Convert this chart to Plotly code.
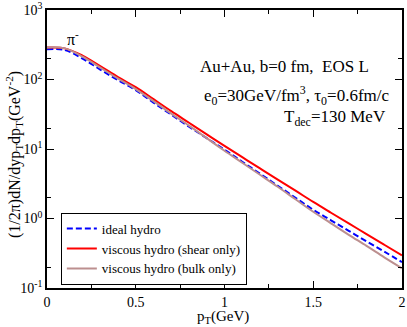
import plotly.graph_objects as go

pt = [0.0, 0.1, 0.2, 0.3, 0.4, 0.5, 0.6, 0.7, 0.8, 0.9, 1.0,
      1.1, 1.2, 1.3, 1.4, 1.5, 1.6, 1.7, 1.8, 1.9, 2.0]

ideal = [271.5, 265.3, 200.1, 138.9, 98.0, 70.4, 46.5, 31.2, 20.96, 14.31, 9.77,
         6.56, 4.41, 2.96, 1.99, 1.335, 0.942, 0.665, 0.469, 0.334, 0.236]
shear = [288.2, 280.6, 221.0, 156.0, 108.3, 77.7, 52.2, 35.0, 23.85, 16.23, 11.08,
         7.62, 5.25, 3.62, 2.51, 1.73, 1.21, 0.850, 0.596, 0.419, 0.295]
bulk = [288.2, 280.6, 213.8, 148.4, 103.0, 72.7, 48.8, 32.3, 21.7, 14.31, 9.45,
        6.35, 4.26, 2.86, 1.89, 1.25, 0.853, 0.582, 0.404, 0.276, 0.192]

names = ["ideal hydro", "viscous hydro (shear only)", "viscous hydro (bulk only)"]

x_ticks = [0, 0.5, 1, 1.5, 2]
x_ticktext = ["0", "0.5", "1", "1.5", "2"]
x_minor = [0.25, 0.75, 1.25, 1.75]
y_ticks = [0.1, 1, 10, 100, 1000]
y_ticktext = ["10<sup>-1</sup>", "10<sup>0</sup>", "10<sup>1</sup>", "10<sup>2</sup>", "10<sup>3</sup>"]
y_minor = [0.2, 2, 20, 200]

FONT = "Liberation Serif"

fig = go.Figure()
fig.add_trace(go.Scatter(x=pt, y=ideal, mode="lines", name=names[0],
                         line=dict(color="#0000ff", width=2, dash="6px,3px", shape="spline")))
fig.add_trace(go.Scatter(x=pt, y=shear, mode="lines", name=names[1],
                         line=dict(color="#ff0000", width=2, shape="spline")))
fig.add_trace(go.Scatter(x=pt, y=bulk, mode="lines", name=names[2],
                         line=dict(color="#bc8f8f", width=2, shape="spline")))

fig.update_layout(
    width=407, height=327,
    margin=dict(l=47, r=5, t=10, b=39, autoexpand=False),
    paper_bgcolor="white", plot_bgcolor="white",
    font=dict(family=FONT, size=14, color="black"),
    showlegend=True,
    legend=dict(x=0.039, y=0.271, xanchor="left", yanchor="top",
                bordercolor="black", borderwidth=1, bgcolor="white",
                font=dict(family=FONT, size=13), tracegroupgap=0,
                itemwidth=30),
)

fig.update_xaxes(
    range=[0, 2], tickmode="array", tickvals=x_ticks, ticktext=x_ticktext,
    ticks="inside", ticklen=7, tickwidth=1, tickcolor="black",
    showline=True, linecolor="black", linewidth=1.5, mirror="ticks",
    showgrid=False, zeroline=False, automargin=False,
    minor=dict(tickmode="array", tickvals=x_minor,
               ticks="inside", ticklen=4, tickcolor="black", showgrid=False),
    tickfont=dict(family=FONT, size=14),
)
fig.update_yaxes(
    type="log", range=[-1, 3], tickmode="array", tickvals=y_ticks, ticktext=y_ticktext,
    ticks="inside", ticklen=7, tickwidth=1, tickcolor="black",
    showline=True, linecolor="black", linewidth=1.5, mirror="ticks",
    showgrid=False, zeroline=False, automargin=False,
    minor=dict(tickmode="array", tickvals=y_minor,
               ticks="inside", ticklen=4, tickcolor="black", showgrid=False),
    tickfont=dict(family=FONT, size=14),
)

# axis titles
fig.add_annotation(x=0.497, y=-0.105, xref="paper", yref="paper",
                   text="p<sub>T</sub>(GeV)", showarrow=False,
                   font=dict(family=FONT, size=15), xanchor="center", yanchor="middle")
fig.add_annotation(x=-0.093, y=0.482, xref="paper", yref="paper",
                   text="(1/2π)dN/dyp<sub>T</sub>dp<sub>T</sub>(GeV<sup>-2</sup>)",
                   showarrow=False, textangle=-90,
                   font=dict(family=FONT, size=16), xanchor="center", yanchor="middle")

# text labels
fig.add_annotation(x=0.052, y=0.9, xref="paper", yref="paper",
                   text="π<sup>-</sup>", showarrow=False,
                   font=dict(family=FONT, size=16), xanchor="left", yanchor="middle")
fig.add_annotation(x=0.425, y=0.795, xref="paper", yref="paper",
                   text="Au+Au, b=0 fm,&nbsp;&nbsp;EOS L", showarrow=False,
                   font=dict(family=FONT, size=17), xanchor="left", yanchor="middle")
fig.add_annotation(x=0.437, y=0.694, xref="paper", yref="paper",
                   text="e<sub>0</sub>=30GeV/fm<sup>3</sup>, τ<sub>0</sub>=0.6fm/c", showarrow=False,
                   font=dict(family=FONT, size=17), xanchor="left", yanchor="middle")
fig.add_annotation(x=0.662, y=0.612, xref="paper", yref="paper",
                   text="T<sub>dec</sub>=130 MeV", showarrow=False,
                   font=dict(family=FONT, size=17), xanchor="left", yanchor="middle")

fig.write_html("out.html", config={"displayModeBar": False},
               post_script="document.body.style.margin='0';document.body.style.padding='0';")
